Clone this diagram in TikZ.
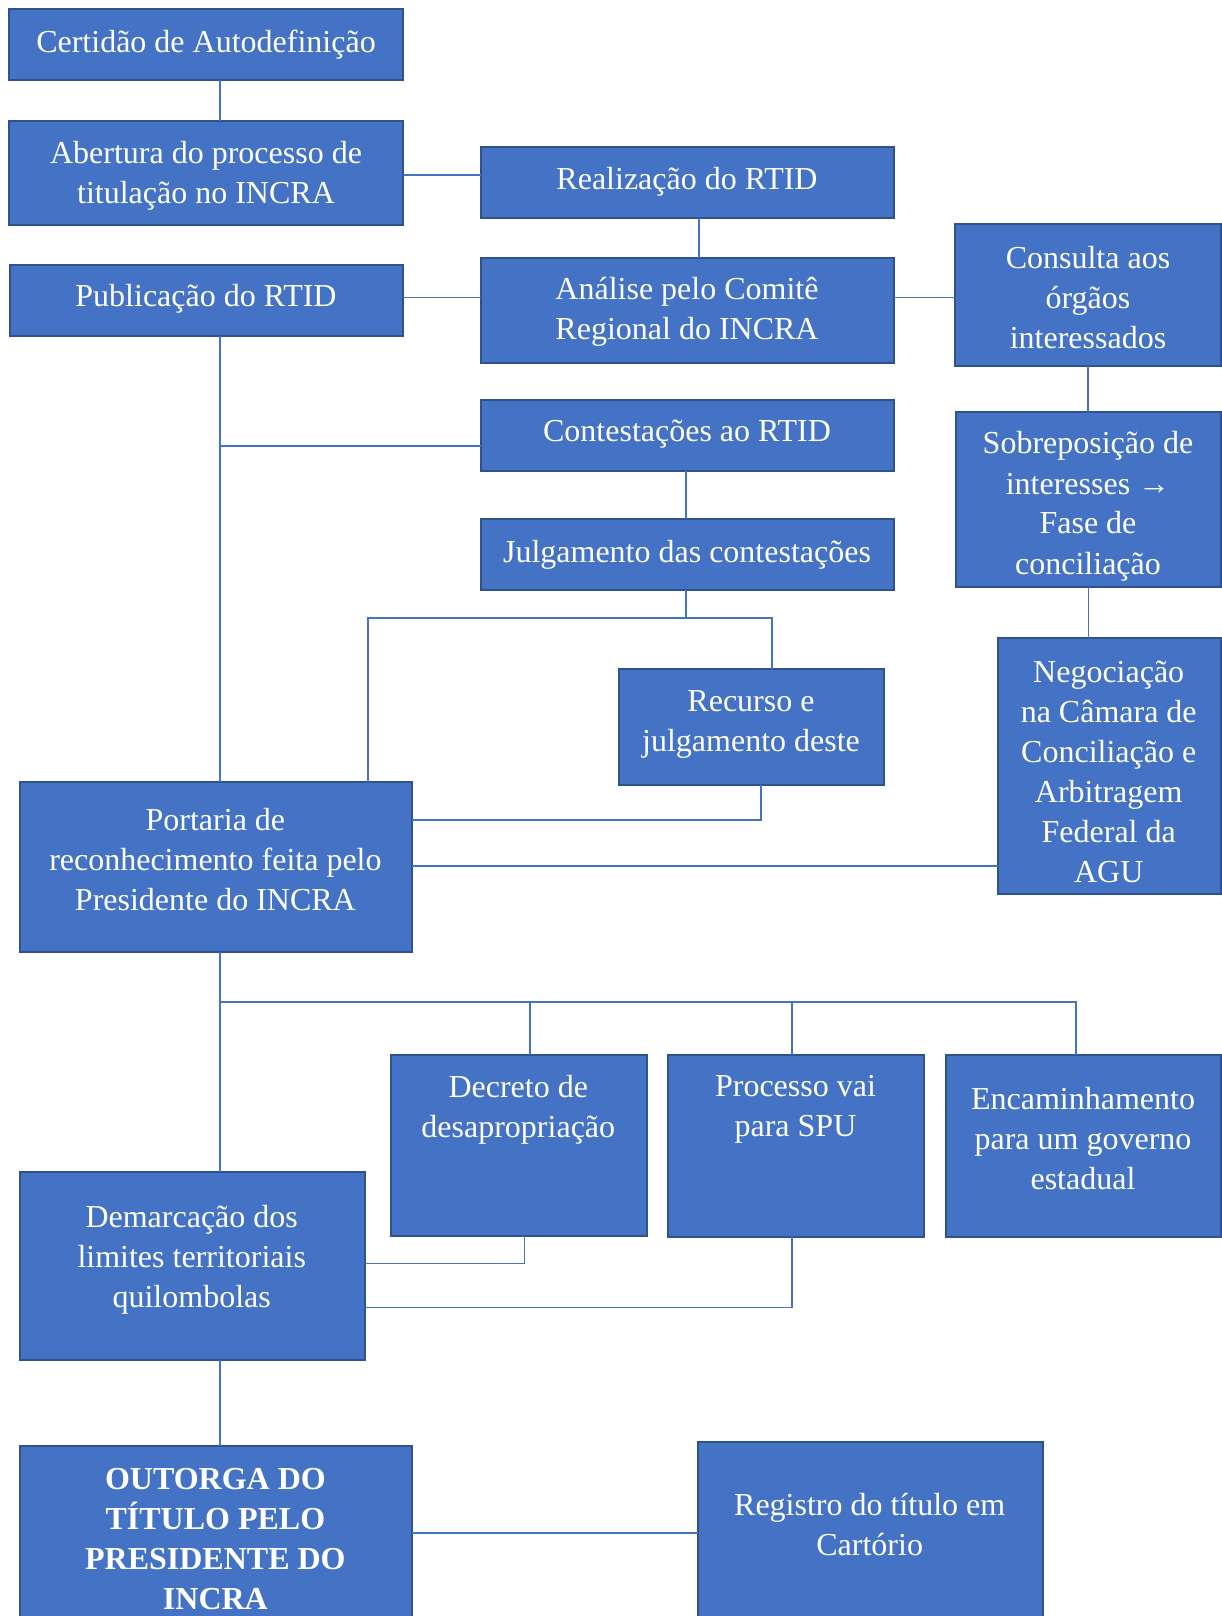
\documentclass[tikz,border=0pt]{standalone}
\usepackage{fontspec}
\setmainfont{Liberation Serif}
\definecolor{boxfill}{HTML}{4472C4}
\definecolor{boxline}{HTML}{2F528F}
\definecolor{conn}{HTML}{4472C4}
\begin{document}
\begin{tikzpicture}[x=1pt,y=-1pt,
  box/.style={draw=boxline,fill=boxfill,line width=2pt,inner sep=0pt,outer sep=0pt,anchor=north west},
  txt/.style={text=white,align=center,inner sep=0pt,font=\fontsize{32}{40}\selectfont},
  con/.style={draw=conn,line width=1.3pt}]
\useasboundingbox (0,0) rectangle (1222,1616);
% boxes
\newcommand\mkbox[5]{\node[box,minimum width={#3-#1},minimum height={#4-#2}] (#5) at (#1,#2) {};}
\mkbox{9}{9.5}{403}{80.5}{cert}
\mkbox{9}{121.5}{403}{225}{abert}
\mkbox{481}{147}{894}{218}{realiz}
\mkbox{10}{265}{403}{336}{public}
\mkbox{481}{258}{894}{363}{anal}
\mkbox{955}{224}{1221}{366}{consul}
\mkbox{481}{400}{894}{471}{contest}
\mkbox{955.5}{411.5}{1221}{586.5}{sobre}
\mkbox{481}{519}{894}{590}{julg}
\mkbox{619}{669}{884}{785}{recur}
\mkbox{998}{638}{1221}{894}{negoc}
\mkbox{19.5}{782}{412}{952}{port}
\mkbox{390.5}{1055}{647}{1235.5}{decr}
\mkbox{668}{1055}{924}{1236.5}{proc}
\mkbox{946}{1055}{1221}{1236.5}{encam}
\mkbox{19.5}{1171.5}{365}{1360}{demar}
\mkbox{19.5}{1446}{412}{1630}{outorga}
\mkbox{698}{1442}{1043}{1630}{regist}
% texts
\node[txt] (cert-t) at (206,44.5) {Certidão de Autodefinição};
\node[txt] (abert-t) at (206,176) {Abertura do processo de\\titulação no INCRA};
\node[txt] (realiz-t) at (687,182) {Realização do RTID};
\node[txt] (public-t) at (206,299.2) {Publicação do RTID};
\node[txt] (anal-t) at (687,312) {Análise pelo Comitê\\Regional do INCRA};
\node[txt] (consul-t) at (1088,297.5) {Consulta aos\\órgãos\\interessados};
\node[txt] (contest-t) at (687,434.2) {Contestações ao RTID};
\node[txt] (sobre-t) at (1088,506.3) {Sobreposição de\\interesses →\\Fase de\\conciliação};
\node[txt] (julg-t) at (687,554.8) {Julgamento das contestações};
\node[txt] (recur-t) at (751,724.3) {Recurso e\\julgamento deste};
\node[txt] (negoc-t) at (1108.7,771.5) {Negociação\\na Câmara de\\Conciliação e\\Arbitragem\\Federal da\\AGU};
\node[txt] (port-t) at (215.4,859.8) {Portaria de\\reconhecimento feita pelo\\Presidente do INCRA};
\node[txt] (decr-t) at (518.3,1109.6) {Decreto de\\desapropriação};
\node[txt] (proc-t) at (795.5,1109.6) {Processo vai\\para SPU};
\node[txt] (encam-t) at (1083,1139) {Encaminhamento\\para um governo\\estadual};
\node[txt] (demar-t) at (191.7,1259.5) {Demarcação dos\\limites territoriais\\quilombolas};
\node[txt,font=\fontsize{32}{40}\selectfont\bfseries] (outorga-t) at (215.4,1539) {OUTORGA DO\\TÍTULO PELO\\PRESIDENTE DO\\INCRA};
\node[txt] (regist-t) at (869.7,1525) {Registro do título em\\Cartório};
% helper coordinates
\coordinate (c220) at (220,0);
\coordinate (c699) at (699,0);
\coordinate (c686) at (686,0);
\coordinate (ab) at (440,175);
\coordinate (pa) at (440,297.8);
\coordinate (ac) at (920,297.8);
\coordinate (k1) at (220,446);
\coordinate (jl) at (368,618);
\coordinate (jr) at (772,618);
\coordinate (rc) at (761,820);
\coordinate (ng) at (700,866);
\coordinate (b0) at (220,1002);
\coordinate (c530) at (530,0);
\coordinate (c792) at (792,0);
\coordinate (c1076) at (1076,0);
\coordinate (dc) at (524.5,1263.5);
\coordinate (pc) at (792,1307.5);
\coordinate (og) at (500,1533);
% connectors
\draw[con] (cert.south -| c220) -- (abert.north -| c220);
\draw[con] (ab -| abert.east) -- (ab -| realiz.west);
\draw[con] (realiz.south -| c699) -- (anal.north -| c699);
\draw[con] (pa -| public.east) -- (pa -| anal.west);
\draw[con] (ac -| anal.east) -- (ac -| consul.west);
\draw[con] (consul.south) -- (sobre.north -| consul.south);
\draw[con] (sobre.south) -- (sobre.south |- negoc.north);
\draw[con] (public.south -| c220) -- (port.north -| c220);
\draw[con] (k1) -- (k1 -| contest.west);
\draw[con] (contest.south -| c686) -- (julg.north -| c686);
\draw[con] (julg.south -| c686) -- (c686 |- jl);
\draw[con] (jl |- port.north) -- (jl) -- (jr) -- (jr |- recur.north);
\draw[con] (rc |- recur.south) -- (rc) -- (rc -| port.east);
\draw[con] (ng -| port.east) -- (ng -| negoc.west);
\draw[con] (port.south -| c220) -- (demar.north -| c220);
\draw[con] (b0) -- (b0 -| c1076) -- (c1076 |- encam.north);
\draw[con] (b0 -| c530) -- (c530 |- decr.north);
\draw[con] (b0 -| c792) -- (c792 |- proc.north);
\draw[con] (dc |- decr.south) -- (dc) -- (dc -| demar.east);
\draw[con] (pc |- proc.south) -- (pc) -- (pc -| demar.east);
\draw[con] (demar.south -| c220) -- (outorga.north -| c220);
\draw[con] (og -| outorga.east) -- (og -| regist.west);
\end{tikzpicture}
\end{document}
